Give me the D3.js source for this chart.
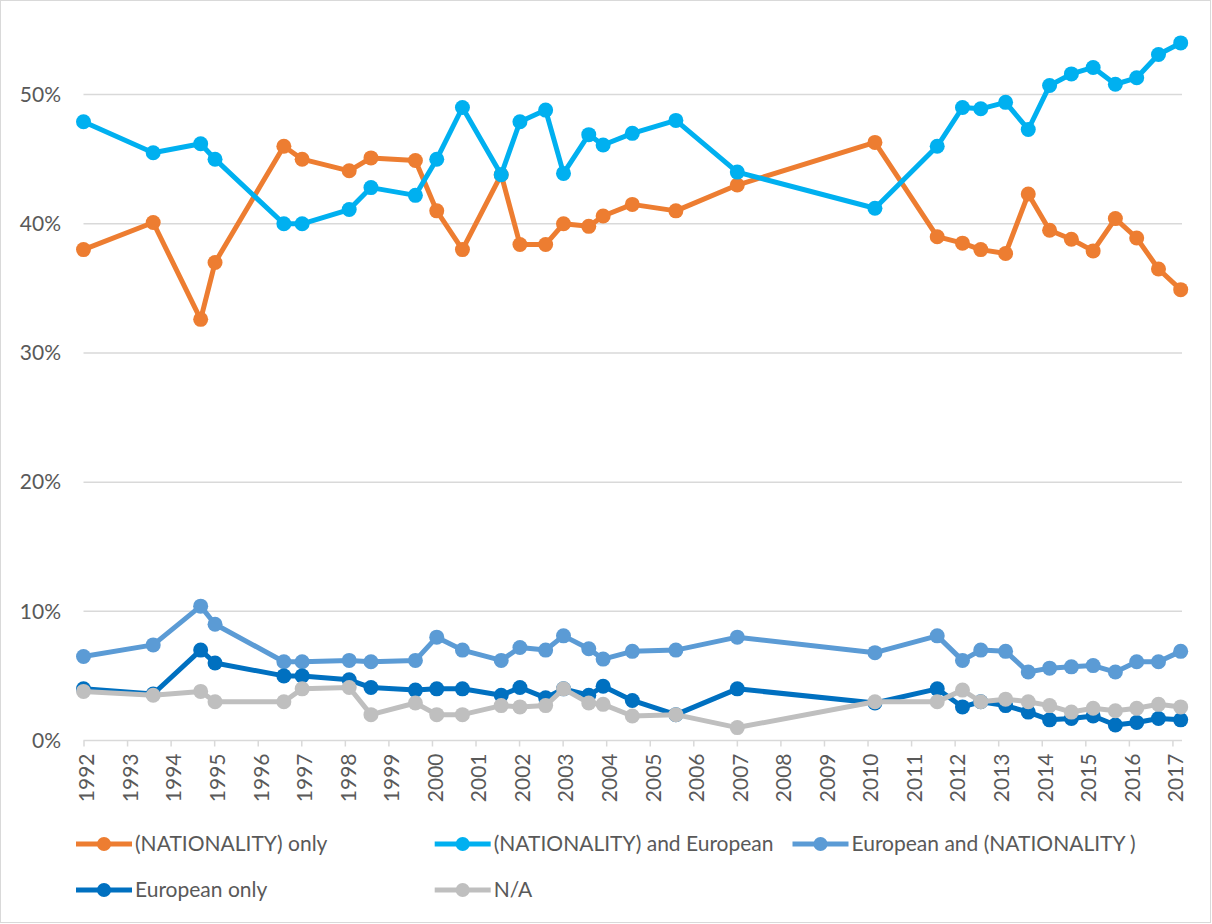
<!DOCTYPE html>
<html>
<head>
<meta charset="utf-8">
<script src="https://cdn.jsdelivr.net/npm/d3@7"></script>
<style>
	body { margin: 0; background: #fff; }
	svg text { font-family: Lato, "Open Sans", sans-serif; fill: #595959; }
</style>
</head>
<body>
<div id="chart"></div>
<script>
// survey dates (fractional years)
var surveyDates = [1992.0, 1993.6, 1994.69, 1995.02, 1996.6, 1997.02, 1998.1, 1998.6,
	1999.62, 2000.11, 2000.7, 2001.59, 2002.02, 2002.61, 2003.02, 2003.6, 2003.93,
	2004.6, 2005.6, 2007.01, 2010.17, 2011.6, 2012.18, 2012.6, 2013.17, 2013.69,
	2014.18, 2014.68, 2015.18, 2015.69, 2016.18, 2016.68, 2017.19];

var nationalityOnly = [38.0, 40.1, 32.6, 37.0, 46.0, 45.0, 44.1, 45.1, 44.9, 41.0, 38.0,
	43.8, 38.4, 38.4, 40.0, 39.8, 40.6, 41.5, 41.0, 43.0, 46.3, 39.0, 38.5, 38.0, 37.7,
	42.3, 39.5, 38.8, 37.9, 40.4, 38.9, 36.5, 34.9];
var nationalityAndEuropean = [47.9, 45.5, 46.2, 45.0, 40.0, 40.0, 41.1, 42.8, 42.2, 45.0,
	49.0, 43.8, 47.9, 48.8, 43.9, 46.9, 46.1, 47.0, 48.0, 44.0, 41.2, 46.0, 49.0, 48.9,
	49.4, 47.3, 50.7, 51.6, 52.1, 50.8, 51.3, 53.1, 54.0];
var europeanAndNationality = [6.5, 7.4, 10.4, 9.0, 6.1, 6.1, 6.2, 6.1, 6.2, 8.0, 7.0,
	6.2, 7.2, 7.0, 8.1, 7.1, 6.3, 6.9, 7.0, 8.0, 6.8, 8.1, 6.2, 7.0, 6.9, 5.3, 5.6, 5.7,
	5.8, 5.3, 6.1, 6.1, 6.9];
var europeanOnly = [4.0, 3.6, 7.0, 6.0, 5.0, 5.0, 4.7, 4.1, 3.9, 4.0, 4.0, 3.5, 4.1, 3.3,
	4.0, 3.5, 4.2, 3.1, 2.0, 4.0, 2.9, 4.0, 2.6, 3.0, 2.7, 2.2, 1.6, 1.7, 1.9, 1.2, 1.4,
	1.7, 1.6];
var notAnswered = [3.8, 3.5, 3.8, 3.0, 3.0, 4.0, 4.1, 2.0, 2.9, 2.0, 2.0, 2.7, 2.6, 2.7,
	4.0, 2.9, 2.8, 1.9, 2.0, 1.0, 3.0, 3.0, 3.9, 3.0, 3.2, 3.0, 2.7, 2.2, 2.5, 2.3, 2.5,
	2.8, 2.6];

var seriesNames = ["(NATIONALITY) only", "(NATIONALITY) and European",
	"European and (NATIONALITY )", "European only", "N/A"];
var seriesColors = ["#ED7D31", "#00B0F0", "#5B9BD5", "#0070C0", "#BFBFBF"];
var yTicks = [0, 10, 20, 30, 40, 50];
var yearTicks = d3.range(1992, 2018);

var allSeries = [nationalityOnly, nationalityAndEuropean, europeanAndNationality,
	europeanOnly, notAnswered];

var width = 1212, height = 924;
var svg = d3.select("#chart").append("svg")
	.attr("width", width).attr("height", height);

// chart border
svg.append("rect").attr("x", 0.5).attr("y", 0.5)
	.attr("width", width - 2).attr("height", height - 2)
	.attr("fill", "#fff").attr("stroke", "#D9D9D9");

var x = d3.scaleLinear().domain([1992, 2017.19]).range([83.5, 1180.7]);
var y = d3.scaleLinear().domain([0, 55]).range([740.5, 30]);
var plotRight = 1182;

// gridlines
svg.append("g").selectAll("line").data(yTicks.slice(1)).enter().append("line")
	.attr("x1", x.range()[0]).attr("x2", plotRight)
	.attr("y1", function(d) { return y(d); })
	.attr("y2", function(d) { return y(d); })
	.attr("stroke", "#D9D9D9").attr("stroke-width", 1.5);

// y labels
svg.append("g").selectAll("text").data(yTicks).enter().append("text")
	.attr("x", 61).attr("y", function(d) { return y(d); })
	.attr("dy", "0.35em").attr("text-anchor", "end")
	.attr("font-size", "21px")
	.text(function(d) { return d + "%"; });

// x axis
var xAxis = d3.axisBottom(x).tickValues(yearTicks).tickSize(6)
	.tickFormat(d3.format("d"));
var gx = svg.append("g").attr("transform", "translate(0," + y(0) + ")").call(xAxis);
gx.select(".domain").attr("stroke", "#D9D9D9").attr("stroke-width", 1.5)
	.attr("d", "M" + x.range()[0] + ",0H" + plotRight);
gx.selectAll(".tick line").attr("stroke", "#D9D9D9").attr("stroke-width", 1.5);
gx.selectAll(".tick text")
	.attr("font-size", "21px").attr("font-family", "Lato, sans-serif")
	.attr("fill", "#595959")
	.attr("text-anchor", "end").attr("y", 0).attr("dy", "0.35em")
	.attr("transform", "translate(3,13) rotate(-90)");

// series, in Excel order
var line = d3.line()
	.x(function(d, i) { return x(surveyDates[i]); })
	.y(function(d) { return y(d); });

allSeries.forEach(function(values, s) {
	var g = svg.append("g");
	g.append("path").datum(values).attr("d", line)
		.attr("fill", "none").attr("stroke", seriesColors[s])
		.attr("stroke-width", 5).attr("stroke-linejoin", "round");
	g.selectAll("circle").data(values).enter().append("circle")
		.attr("cx", function(d, i) { return x(surveyDates[i]); })
		.attr("cy", function(d) { return y(d); })
		.attr("r", 7.5).attr("fill", seriesColors[s]);
});

// legend
var legendPos = [[76, 844], [434.7, 844], [792.5, 844], [76, 890], [434.7, 890]];
var legend = svg.append("g").selectAll("g").data(seriesNames).enter().append("g")
	.attr("transform", function(d, i) {
		return "translate(" + legendPos[i][0] + "," + legendPos[i][1] + ")";
	});
legend.append("line").attr("x1", 0).attr("x2", 56).attr("y1", 0).attr("y2", 0)
	.attr("stroke", function(d, i) { return seriesColors[i]; })
	.attr("stroke-width", 5);
legend.append("circle").attr("cx", 28).attr("cy", 0).attr("r", 7)
	.attr("fill", function(d, i) { return seriesColors[i]; });
legend.append("text").attr("x", 59).attr("y", 0).attr("dy", "0.35em")
	.attr("font-size", "21px")
	.text(function(d) { return d; });
</script>
</body>
</html>
